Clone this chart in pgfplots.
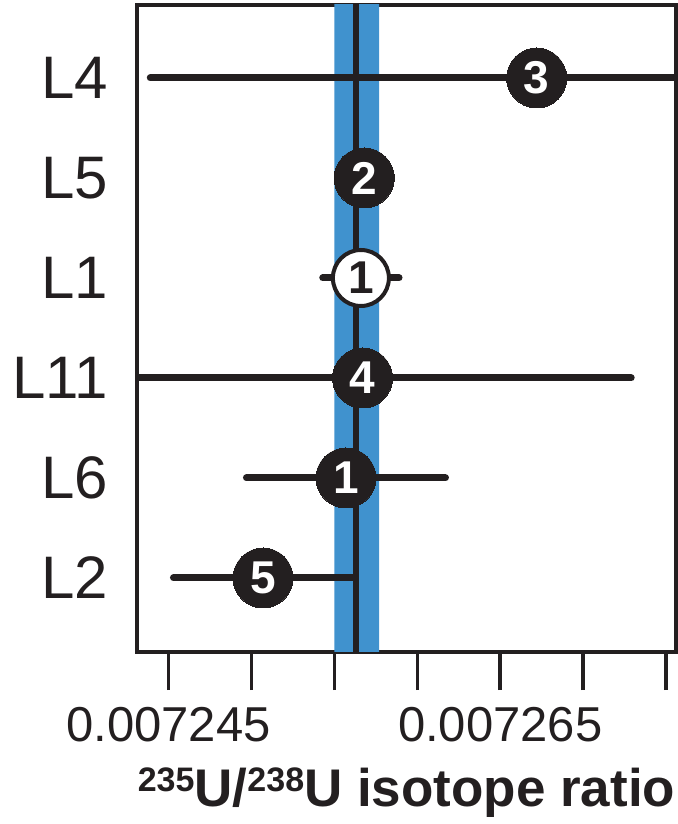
\documentclass[border=0pt]{standalone}
\usepackage{pgfplots}
\usepackage{pgfplotstable}
\pgfplotsset{compat=1.18}
\usepackage{fontspec}
\setmainfont{Liberation Sans}
\definecolor{band}{RGB}{64,146,206}
\definecolor{ink}{RGB}{35,31,32}

\pgfplotstableread{
x y em ep n
0.0072672 6 0.0000233 0.0000233 3
0.0072568 5 0 0 2
0.0072567 3 0.0000162 0.0000162 4
0.0072557 2 0.0000060 0.0000060 1
0.0072507 1 0.0000054 0.0000054 5
}\blackpts

\pgfplotstableread{
x y em ep n
0.0072566 4 0.0000023 0.0000023 1
}\whitepts

\begin{document}
\begin{tikzpicture}
\begin{axis}[
  scale only axis, width=269.5pt, height=323.5pt,
  xmin=0.0072431, xmax=0.0072756, ymin=0.26, ymax=6.73,
  scaled x ticks=false,
  axis line style={line width=2pt, ink},
  xtick={0.007245,0.00725,0.007255,0.00726,0.007265,0.00727,0.007275},
  xticklabels={0.007245,,,,0.007265,,},
  xtick pos=lower, tick align=outside, major tick length=19pt,
  xtick style={ink, line width=1.75pt},
  ytick={1,2,3,4,5,6}, yticklabels={L2,L6,L11,L1,L5,L4},
  ytick style={draw=none},
  yticklabel style={font=\fontsize{30}{30}\selectfont, text=ink, xshift=8pt},
  xticklabel style={font=\fontsize{24.5}{24.5}\selectfont, text=ink, yshift=-5pt},
  xlabel={\bfseries\fontsize{26.5}{26.5}\selectfont\raisebox{7.8pt}{\fontsize{17}{17}\selectfont 235}U/\raisebox{7.8pt}{\fontsize{17}{17}\selectfont 238}U isotope ratio},
  xlabel style={text=ink, yshift=-6pt},
]
\addplot[fill=band, draw=none] coordinates {(0.007255,0) (0.0072577,0) (0.0072577,7) (0.007255,7) (0.007255,0)};
\addplot[ink, line width=3pt] coordinates {(0.0072563,0) (0.0072563,7)};

\addplot[only marks, mark=*, mark size=15pt, mark options={fill=ink, draw=ink, line width=0pt},
  point meta=explicit symbolic, nodes near coords,
  every node near coord/.style={anchor=center, text=white, font=\bfseries\fontsize{23}{23}\selectfont},
  error bars/.cd, x dir=both, x explicit, error mark=none,
  error bar style={line width=3.5pt, ink, line cap=round}]
  table[x=x, y=y, x error minus=em, x error plus=ep, meta=n] {\blackpts};

\addplot[only marks, mark=*, mark size=14pt, mark options={fill=white, draw=ink, line width=2pt},
  point meta=explicit symbolic, nodes near coords,
  every node near coord/.style={anchor=center, text=ink, font=\bfseries\fontsize{23}{23}\selectfont},
  error bars/.cd, x dir=both, x explicit, error mark=none,
  error bar style={line width=3.5pt, ink, line cap=round}]
  table[x=x, y=y, x error minus=em, x error plus=ep, meta=n] {\whitepts};
\end{axis}
\pgfresetboundingbox
\path ([shift={(-68.5pt,-86pt)}]current axis.south west) rectangle ([shift={(1pt,2.5pt)}]current axis.north east);
\end{tikzpicture}
\end{document}
